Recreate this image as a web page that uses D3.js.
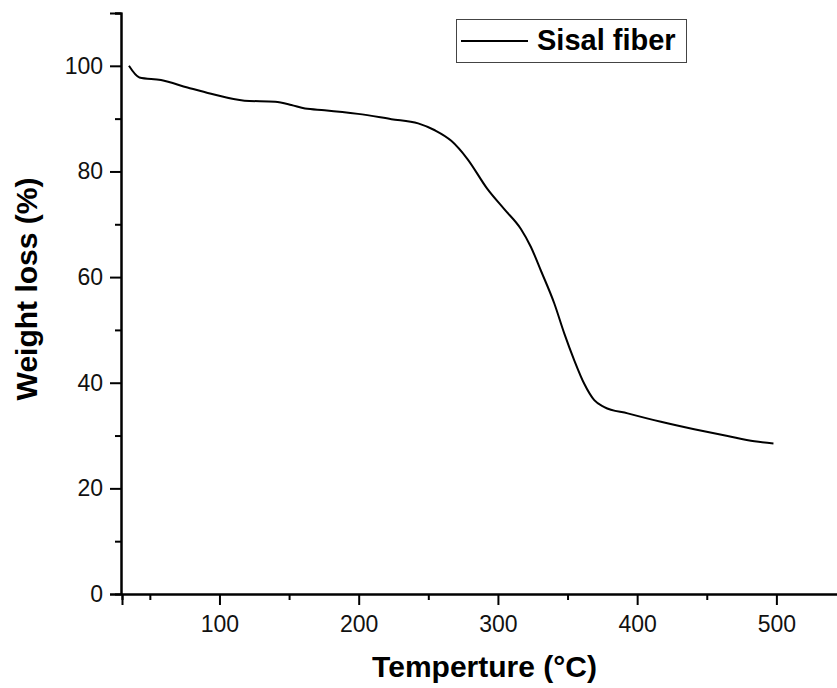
<!DOCTYPE html>
<html>
<head>
<meta charset="utf-8">
<script src="https://cdn.jsdelivr.net/npm/d3@7"></script>
<style>
  html, body { margin: 0; padding: 0; background: #fff; }
  svg { display: block; font-family: "Liberation Sans", Arial, sans-serif; }
</style>
</head>
<body>
<svg id="chart" width="837" height="688"></svg>
<script>
// TGA curve of sisal fiber: temperature (°C) vs remaining weight (%)
const temperature = [35, 42.5, 58, 77, 94, 118, 140, 151.6, 161.5, 175.5, 199.5, 223.5, 242.7, 254.7, 266.5,
  278, 292.4, 304.4, 316.5, 323.7, 330.9, 340.5, 347.7, 354.9, 362, 369.2, 376.4, 393.2, 417.1, 441, 465, 484.2, 497.9];
const weight = [100, 97.8, 97.3, 95.9, 94.7, 93.4, 93.2, 92.6, 91.9, 91.6, 90.9, 89.9, 89.1, 87.8, 85.8,
  82.4, 76.7, 72.9, 69.1, 65.7, 61.2, 55.0, 49.3, 44.2, 39.8, 36.7, 35.4, 34.2, 32.6, 31.2, 29.9, 28.9, 28.5];
const seriesName = "Sisal fiber";

const xMajorTicks = [100, 200, 300, 400, 500];
const xMinorTicks = [50, 150, 250, 350, 450];
const yMajorTicks = [0, 20, 40, 60, 80, 100];
const yMinorTicks = [10, 30, 50, 70, 90, 110];

const xTitle = "Temperture (°C)";
const yTitle = "Weight loss (%)";

const svg = d3.select("#chart");

const x = d3.scaleLinear().domain([30, 550]).range([122, 846]);
const y = d3.scaleLinear().domain([0, 110]).range([594, 13]);

const axisColor = "#000";

function styleAxis(g) {
  g.select(".domain").attr("stroke", axisColor).attr("stroke-width", 2);
  g.selectAll(".tick line").attr("stroke", axisColor).attr("stroke-width", 2);
}

// x axis: major and minor ticks
const gxMinor = svg.append("g")
  .attr("transform", `translate(0,${y(0)})`)
  .call(d3.axisBottom(x).tickValues(xMinorTicks).tickSize(6).tickFormat(""));
styleAxis(gxMinor);
const gx = svg.append("g")
  .attr("transform", `translate(0,${y(0)})`)
  .call(d3.axisBottom(x).tickValues(xMajorTicks).tickSize(11).tickPadding(11).tickFormat(d3.format("d")));
styleAxis(gx);
gx.selectAll(".tick text").attr("font-size", 23).attr("fill", "#111")
  .attr("font-family", "'Liberation Sans', Arial, sans-serif");

// y axis: major and minor ticks
const gyMinor = svg.append("g")
  .attr("transform", `translate(${x(30) - 1},0)`)
  .call(d3.axisLeft(y).tickValues(yMinorTicks).tickSize(6).tickFormat(""));
styleAxis(gyMinor);
const gy = svg.append("g")
  .attr("transform", `translate(${x(30) - 1},0)`)
  .call(d3.axisLeft(y).tickValues(yMajorTicks).tickSize(11).tickPadding(7).tickFormat(d3.format("d")));
styleAxis(gy);
gy.selectAll(".tick text").attr("font-size", 23).attr("fill", "#111")
  .attr("font-family", "'Liberation Sans', Arial, sans-serif");

// axis titles
svg.append("text")
  .attr("x", 484.5).attr("y", 677)
  .attr("text-anchor", "middle")
  .attr("font-size", 30).attr("font-weight", "bold").attr("fill", "#000")
  .text(xTitle);

svg.append("text")
  .attr("transform", "translate(37,289) rotate(-90)")
  .attr("text-anchor", "middle")
  .attr("font-size", 30).attr("font-weight", "bold").attr("fill", "#000")
  .text(yTitle);

// data line
const line = d3.line()
  .x((d, i) => x(temperature[i]))
  .y(d => y(d))
  .curve(d3.curveMonotoneX);

svg.append("path")
  .datum(weight)
  .attr("fill", "none")
  .attr("stroke", "#000")
  .attr("stroke-width", 2)
  .attr("stroke-linejoin", "round")
  .attr("d", line);

// legend
const legend = svg.append("g");
legend.append("rect")
  .attr("x", 456.5).attr("y", 19.5).attr("width", 230).attr("height", 43)
  .attr("fill", "#fff").attr("stroke", "#444").attr("stroke-width", 1);
legend.append("line")
  .attr("x1", 461).attr("x2", 528).attr("y1", 41).attr("y2", 41)
  .attr("stroke", "#000").attr("stroke-width", 2);
legend.append("text")
  .attr("x", 537).attr("y", 49.5)
  .attr("font-size", 29).attr("font-weight", "bold").attr("fill", "#000")
  .text(seriesName);
</script>
</body>
</html>
